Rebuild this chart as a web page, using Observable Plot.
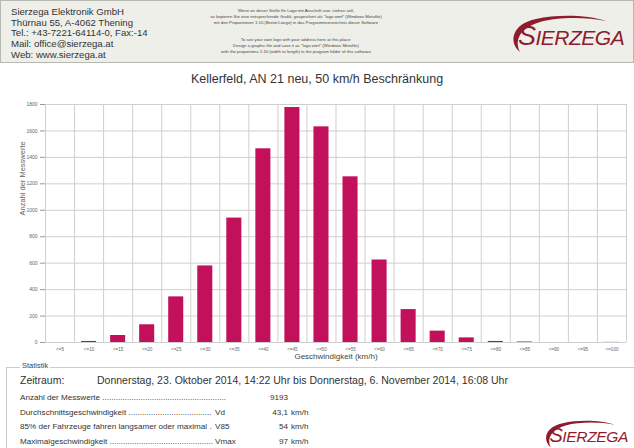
<!DOCTYPE html>
<html><head><meta charset="utf-8">
<script src="https://cdn.jsdelivr.net/npm/d3@7"></script>
<script src="https://cdn.jsdelivr.net/npm/@observablehq/plot@0.6"></script>
<style>
body{margin:0;width:634px;height:448px;position:relative;overflow:hidden;background:#fff;font-family:"Liberation Sans",Arial,sans-serif;color:#333}
#header{position:absolute;left:0;top:0;width:632px;height:61px;background:#efefea;border:1px solid #b8b8b2}
#addr{position:absolute;left:10px;top:6px;font-size:9.6px;line-height:10.7px;color:#333}
.note{position:absolute;left:190px;width:210px;text-align:center;font-size:4.3px;line-height:6px;color:#444}
.logo{position:absolute;width:120px;height:40px;transform-origin:0 0}
.logo svg{position:absolute;left:0;top:0}
.logo .t{position:absolute;left:10px;top:9px;font-style:italic;color:#8e1c2c;font-family:"Liberation Sans",Arial,sans-serif;letter-spacing:-0.5px;white-space:nowrap}
.logo .t .b{font-size:27px}
.logo .t .s{font-size:21px}
#title{position:absolute;left:0;width:634px;top:72px;text-align:center;font-size:12.5px;color:#333}
#chart{position:absolute;left:0;top:90px}
#stats{position:absolute;left:6px;top:367px;width:640px;height:100px;border-top:1px solid #ccc;border-left:1px solid #ccc}
#stlab{position:absolute;left:20px;top:361px;font-size:7.5px;background:#fff;padding:0 2px;color:#444}
#zeit{position:absolute;left:20px;top:374px;font-size:10.5px;color:#333;white-space:nowrap}
#zeit span{position:absolute;left:77px}
.row{position:absolute;left:20px;width:310px;font-size:8.1px;color:#333;white-space:nowrap;height:10px}
.row .lab{position:absolute;left:0}
.row .ab{position:absolute;left:195px}
.row .val{position:absolute;left:220px;width:48px;text-align:right}
.row .unit{position:absolute;left:271px}
</style></head><body>
<div id="header">
  <div id="addr"></div>
  <div class="note" id="note1" style="top:7px"></div>
  <div class="note" id="note2" style="top:36px"></div>
</div>
<div class="logo" id="logo1" style="left:508px;top:12px"></div>
<div id="title"></div>
<div id="chart"></div>
<div id="stats"></div>
<div id="stlab">Statistik</div>
<div id="zeit"></div>
<div id="rows"></div>
<div class="logo" id="logo2" style="left:542px;top:418px;transform:scale(0.74)"></div>
<script>
const addressLines = ["Sierzega Elektronik GmbH","Thürnau 55, A-4062 Thening","Tel.: +43-7221-64114-0, Fax:-14","Mail: office@sierzega.at","Web: www.sierzega.at"];
const noteDe = ["Wenn an dieser Stelle Ihr Logo mit Anschrift usw. stehen soll,","so kopieren Sie eine entsprechende Grafik, gespeichert als \"logo.wmf\" (Windows Metafile)","mit den Proportionen 1:10 (Breite:Länge) in das Programmverzeichnis dieser Software"];
const noteEn = ["To see your own logo with your address here at this place:","Design a graphic file and save it as \"logo.wmf\" (Windows Metafile)","with the proportions 1:10 (width to length) in the program folder of this software"];
const chartTitle = "Kellerfeld, AN 21 neu, 50 km/h Beschränkung";
const xLabel = "Geschwindigkeit (km/h)";
const yLabel = "Anzahl der Messwerte";
const speedLabels = ["<=5","<=10","<=15","<=20","<=25","<=30","<=35","<=40","<=45","<=50","<=55","<=60","<=65","<=70","<=75","<=80","<=85","<=90","<=95","<=100"];
const counts = [0,8,53,134,345,579,941,1465,1777,1631,1253,624,249,86,35,8,4,0,0,1];
const yTicks = [0,200,400,600,800,1000,1200,1400,1600,1800];
const zeitLabel = "Zeitraum:";
const zeitText = "Donnerstag, 23. Oktober 2014, 14:22 Uhr bis Donnerstag, 6. November 2014, 16:08 Uhr";
const statLabels = ["Anzahl der Messwerte","Durchschnittsgeschwindigkeit","85% der Fahrzeuge fahren langsamer oder maximal","Maximalgeschwindigkeit"];
const statAbbr = ["","Vd","V85","Vmax"];
const statValues = ["9193","43,1","54","97"];
const statUnits = ["","km/h","km/h","km/h"];

document.getElementById("addr").innerHTML = addressLines.map(s=>`<div>${s}</div>`).join("");
document.getElementById("note1").innerHTML = noteDe.map(s=>`<div>${s}</div>`).join("");
document.getElementById("note2").innerHTML = noteEn.map(s=>`<div>${s}</div>`).join("");
document.getElementById("title").textContent = chartTitle;

const logoHTML = `<svg width="120" height="44"><path d="M 12 40 C 0 30, 4 12, 28 7 C 50 2, 80 3, 98 9 C 78 5, 50 5, 32 10 C 12 16, 6 28, 12 40 Z" fill="#8e1c2c"/></svg><div class="t"><span class="b">S</span><span class="s">IERZEGA</span></div>`;
document.getElementById("logo1").innerHTML = logoHTML;
document.getElementById("logo2").innerHTML = logoHTML;

document.getElementById("zeit").innerHTML = `${zeitLabel}<span>${zeitText}</span>`;

// fill the leader dots so the label ends just before the abbreviation column
const ctx = document.createElement("canvas").getContext("2d");
ctx.font = '8.1px "Liberation Sans", Arial, sans-serif';
const maxW = [208, 193, 193, 193];
function leader(label, w) {
  let s = label + " ";
  while (ctx.measureText(s + ".").width < w) s += ".";
  return s;
}
const rowTops = [393,408,422,437];
document.getElementById("rows").innerHTML = statLabels.map((l,i)=>
  `<div class="row" style="top:${rowTops[i]}px"><span class="lab">${leader(l, maxW[i])}</span><span class="ab">${statAbbr[i]}</span><span class="val">${statValues[i]}</span><span class="unit">${statUnits[i]}</span></div>`).join("");

const data = counts.map((c,i)=>({i, label: speedLabels[i], count: c}));
const grid = "#cfcfcf";
const chart = Plot.plot({
  width: 634, height: 275,
  marginLeft: 45, marginRight: 8, marginTop: 14, marginBottom: 23,
  style: {background: "transparent", fontFamily: "Liberation Sans, Arial, sans-serif"},
  x: {type: "linear", domain: [0, speedLabels.length]},
  y: {domain: [0, 1800]},
  marks: [
    Plot.gridY(yTicks, {stroke: grid, strokeOpacity: 1}),
    Plot.ruleX(d3.range(0, speedLabels.length + 1), {stroke: grid, strokeOpacity: 1}),
    Plot.rectY(data, {x1: "i", x2: d => d.i + 1, y1: 0, y2: "count", fill: "#c2105a", insetLeft: 7, insetRight: 7}),
    Plot.axisY({ticks: yTicks, tickFormat: d => String(d), tickSize: 5, tickPadding: 3, fontSize: 5, label: null, stroke: "#999", fill: "#666"}),
    Plot.axisX({ticks: d3.range(speedLabels.length).map(i => i + 0.5), tickFormat: d => speedLabels[Math.floor(d)], tickSize: 0, tickPadding: 5, fontSize: 4.6, label: null, fill: "#666"}),
    Plot.text([xLabel], {frameAnchor: "bottom", dy: 16, fontSize: 8, fill: "#444"}),
    Plot.text([yLabel], {frameAnchor: "left", dx: -23, dy: -8, rotate: -90, fontSize: 7.5, fill: "#666", fontWeight: "normal"})
  ]
});
document.getElementById("chart").appendChild(chart);
</script>
</body></html>
